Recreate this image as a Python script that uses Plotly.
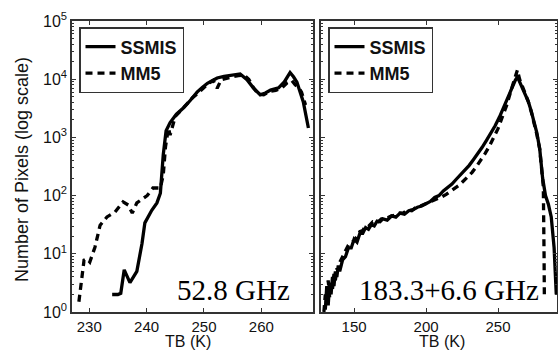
import plotly.graph_objects as go

# ---- data ----
# Left panel: 52.8 GHz
left_ssmis_tb = [234, 235, 235.5, 236.1, 237.1, 238.3, 239.2, 239.7, 240.9, 241.8,
                 242.4, 242.7, 242.9, 243.4, 244.1, 245.2, 246.4, 247.6, 248.8, 249.7,
                 250.6, 251.5, 252.3, 253.5, 254.6, 255.5, 256.3, 257.5, 258.6, 259.8,
                 260.7, 261.6, 262.3, 263.0, 264.0, 265.0, 265.6, 266.2, 267.3, 268.2]
left_ssmis_n = [2, 2, 2.1, 5.3, 3.2, 5, 15, 34, 56, 75,
                110, 275, 500, 1300, 1800, 2500, 3200, 4300, 6000, 7200,
                8500, 9500, 10500, 11200, 11700, 12000, 12300, 9800, 7100, 5400,
                5800, 6500, 6700, 7100, 9000, 13000, 11000, 8900, 4100, 1450]

left_mm5_tb = [228.2, 228.7, 229.1, 229.6, 230.1, 231.0, 231.9, 233.1, 234.5, 235.9,
               236.8, 237.5, 238.3, 240.1, 241.1, 242.4, 242.9, 243.3, 243.8, 244.1,
               245.0, 246.0, 247.0, 248.0, 249.0, 249.9, 250.8, 251.6, 252.3, 253.0,
               254.0, 255.0, 256.0, 257.0, 257.8, 258.6, 259.5, 260.4, 261.5, 262.5,
               263.5, 264.5, 265.3, 265.9, 266.5, 267.0, 267.7]
left_mm5_n = [1.5, 3.5, 7.8, 8.2, 7.2, 13, 31, 43, 52, 78,
              69, 50, 75, 100, 135, 135, 225, 700, 1450, 1100,
              2300, 2900, 3800, 4800, 5800, 7000, 8500, 9500, 7000, 9800,
              10500, 11000, 11500, 11800, 10000, 7200, 5500, 5400, 6200, 6400,
              7000, 8700, 9500, 8000, 7200, 6000, 3600]

# Right panel: 183.3+6.6 GHz
right_ssmis_tb = [130, 131, 132, 133, 134, 135, 136, 137, 138, 139, 140,
                  142, 144, 146, 148, 150, 152, 154, 156, 158, 160,
                  162, 164, 166, 168, 170,
                  173, 176, 179, 182, 185, 188, 191, 194, 197, 200,
                  203, 206, 209, 212, 215, 218, 221, 224, 227, 230,
                  233, 236, 239, 242, 245, 248, 251, 254, 257, 260,
                  262, 263.5, 265, 267, 269, 271, 273, 275, 277, 279,
                  281, 283, 285, 287, 289, 290.5]
right_ssmis_n = [1.1, 2.8, 1.3, 3.2, 2.0, 4.0, 2.8, 5.0, 4.0, 6.3, 5.0,
                 7.9, 8.9, 12.6, 12.6, 17.8, 15.8, 22.4, 22.4, 28.2, 26.3,
                 31.6, 30.2, 36.3, 35.5, 39.8,
                 38, 44.7, 42.7, 50.1, 47.9, 55, 57.5, 63.1, 66.1, 72.4,
                 79.4, 93.3, 100, 120, 135, 158, 191, 229, 275, 331,
                 417, 525, 676, 891, 1175, 1585, 2239, 3311, 5012, 7586,
                 9550, 10965, 8913, 7079, 5495, 4169, 2884, 1905, 1202, 631,
                 200, 100, 71, 43, 12.6, 2.0]

right_mm5_tb = [129, 130, 131, 132, 133, 134, 135, 136, 137, 138, 139, 140,
                142, 144, 146, 148, 150, 152, 154, 156, 158, 160,
                163, 166, 169, 172, 175, 178, 181, 184, 187, 190,
                193, 196, 199, 202, 205, 208, 211, 214, 217, 220,
                223, 226, 229, 232, 235, 238, 241, 244, 247, 250,
                253, 256, 259, 262, 263.5, 265, 267, 269, 271, 273,
                275, 277, 279, 280.5, 281.5, 282, 282.2]
right_mm5_n = [1.0, 2.0, 1.4, 3.5, 1.8, 3.2, 2.5, 4.5, 3.5, 5.6, 5.2, 7.1,
               8.9, 11.2, 14.1, 15.8, 16.6, 20, 24, 25.1, 30.2, 29.5,
               35.5, 33.9, 39.8, 39.8, 43.7, 45.7, 50.1, 50.1, 56.2, 55,
               63.1, 66.1, 70.8, 75.9, 83.2, 89.1, 95.5, 105, 117, 132,
               151, 178, 209, 251, 316, 398, 525, 708, 1000, 1413,
               2239, 3548, 6310, 11220, 14454, 10000, 7586, 5754, 4169, 2818,
               1820, 1122, 631, 282, 141, 10, 2.0]

y_tickvals = [1, 10, 100, 1000, 10000, 100000]
y_ticktext = ["10<sup>0</sup>", "10<sup>1</sup>", "10<sup>2</sup>",
              "10<sup>3</sup>", "10<sup>4</sup>", "10<sup>5</sup>"]
left_xticks = [230, 240, 250, 260]
right_xticks = [150, 200, 250]
series_names = ["SSMIS", "MM5"]
panel_labels = ["52.8 GHz", "183.3+6.6 GHz"]
x_title = "TB (K)"
y_title = "Number of Pixels (log scale)"

# ---- figure ----
W, H = 558, 351
LW = 3.3
DASH = "7px,5px"
AX = "#333333"
FONT = "Liberation Sans"

fig = go.Figure()
fig.add_trace(go.Scatter(x=left_ssmis_tb, y=left_ssmis_n, mode="lines", name=series_names[0],
                         line=dict(color="black", width=LW), xaxis="x", yaxis="y", legend="legend"))
fig.add_trace(go.Scatter(x=left_mm5_tb, y=left_mm5_n, mode="lines", name=series_names[1],
                         line=dict(color="black", width=LW, dash=DASH), xaxis="x", yaxis="y", legend="legend"))
fig.add_trace(go.Scatter(x=right_ssmis_tb, y=right_ssmis_n, mode="lines", name=series_names[0],
                         line=dict(color="black", width=LW), xaxis="x2", yaxis="y2", legend="legend2"))
fig.add_trace(go.Scatter(x=right_mm5_tb, y=right_mm5_n, mode="lines", name=series_names[1],
                         line=dict(color="black", width=LW, dash=DASH), xaxis="x2", yaxis="y2", legend="legend2"))

def px_x(p):
    return p / W

def px_y(p):
    return 1 - p / H

common_x = dict(showline=True, linecolor=AX, linewidth=1.5, mirror="allticks", ticks="inside",
                ticklen=4, tickcolor=AX, showgrid=False, zeroline=False, automargin=False,
                tickfont=dict(family=FONT, size=15, color="#111"))
common_y = dict(type="log", range=[0, 5], showline=True, linecolor=AX, linewidth=1.5,
                mirror="allticks", ticks="inside", ticklen=4, tickcolor=AX, showgrid=False,
                zeroline=False, automargin=False, tickvals=y_tickvals, ticktext=y_ticktext,
                minor=dict(ticks="inside", ticklen=2.5, tickcolor=AX, dtick="D1", showgrid=False),
                tickfont=dict(family=FONT, size=16, color="#111"))

legend_common = dict(xanchor="left", yanchor="top", bgcolor="white", bordercolor=AX,
                     borderwidth=1.5, tracegroupgap=0, itemwidth=30,
                     font=dict(family=FONT, size=18, color="#111", weight="bold"))

fig.update_layout(
    width=W, height=H, margin=dict(l=0, r=0, t=0, b=0, autoexpand=False),
    paper_bgcolor="white", plot_bgcolor="white",
    xaxis=dict(common_x, domain=[px_x(72), px_x(313)], range=[227, 269],
               tickvals=left_xticks, anchor="y"),
    yaxis=dict(common_y, domain=[px_y(312), px_y(21)], anchor="x"),
    xaxis2=dict(common_x, domain=[px_x(321), px_x(557)], range=[127, 291],
                tickvals=right_xticks, anchor="y2"),
    yaxis2=dict(common_y, domain=[px_y(312), px_y(21)], anchor="x2", showticklabels=False),
    legend=dict(legend_common, x=px_x(79), y=px_y(27)),
    legend2=dict(legend_common, x=px_x(328), y=px_y(27)),
    showlegend=True,
    annotations=[
        dict(text=panel_labels[0], x=px_x(233), y=px_y(290), xref="paper", yref="paper",
             xanchor="center", yanchor="middle", showarrow=False,
             font=dict(family="Liberation Serif", size=29, color="black")),
        dict(text=panel_labels[1], x=px_x(449), y=px_y(290), xref="paper", yref="paper",
             xanchor="center", yanchor="middle", showarrow=False,
             font=dict(family="Liberation Serif", size=29, color="black")),
        dict(text=x_title, x=px_x(188), y=px_y(341), xref="paper", yref="paper",
             xanchor="center", yanchor="middle", showarrow=False,
             font=dict(family=FONT, size=16, color="#111")),
        dict(text=x_title, x=px_x(442), y=px_y(341), xref="paper", yref="paper",
             xanchor="center", yanchor="middle", showarrow=False,
             font=dict(family=FONT, size=16, color="#111")),
        dict(text=y_title, x=px_x(22), y=px_y(170), xref="paper", yref="paper",
             xanchor="center", yanchor="middle", showarrow=False, textangle=-90,
             font=dict(family=FONT, size=18, color="#111")),
    ],
)

fig.write_html("out.html", config={"displayModeBar": False},
               post_script="document.body.style.margin='0';document.body.style.overflow='hidden';")
